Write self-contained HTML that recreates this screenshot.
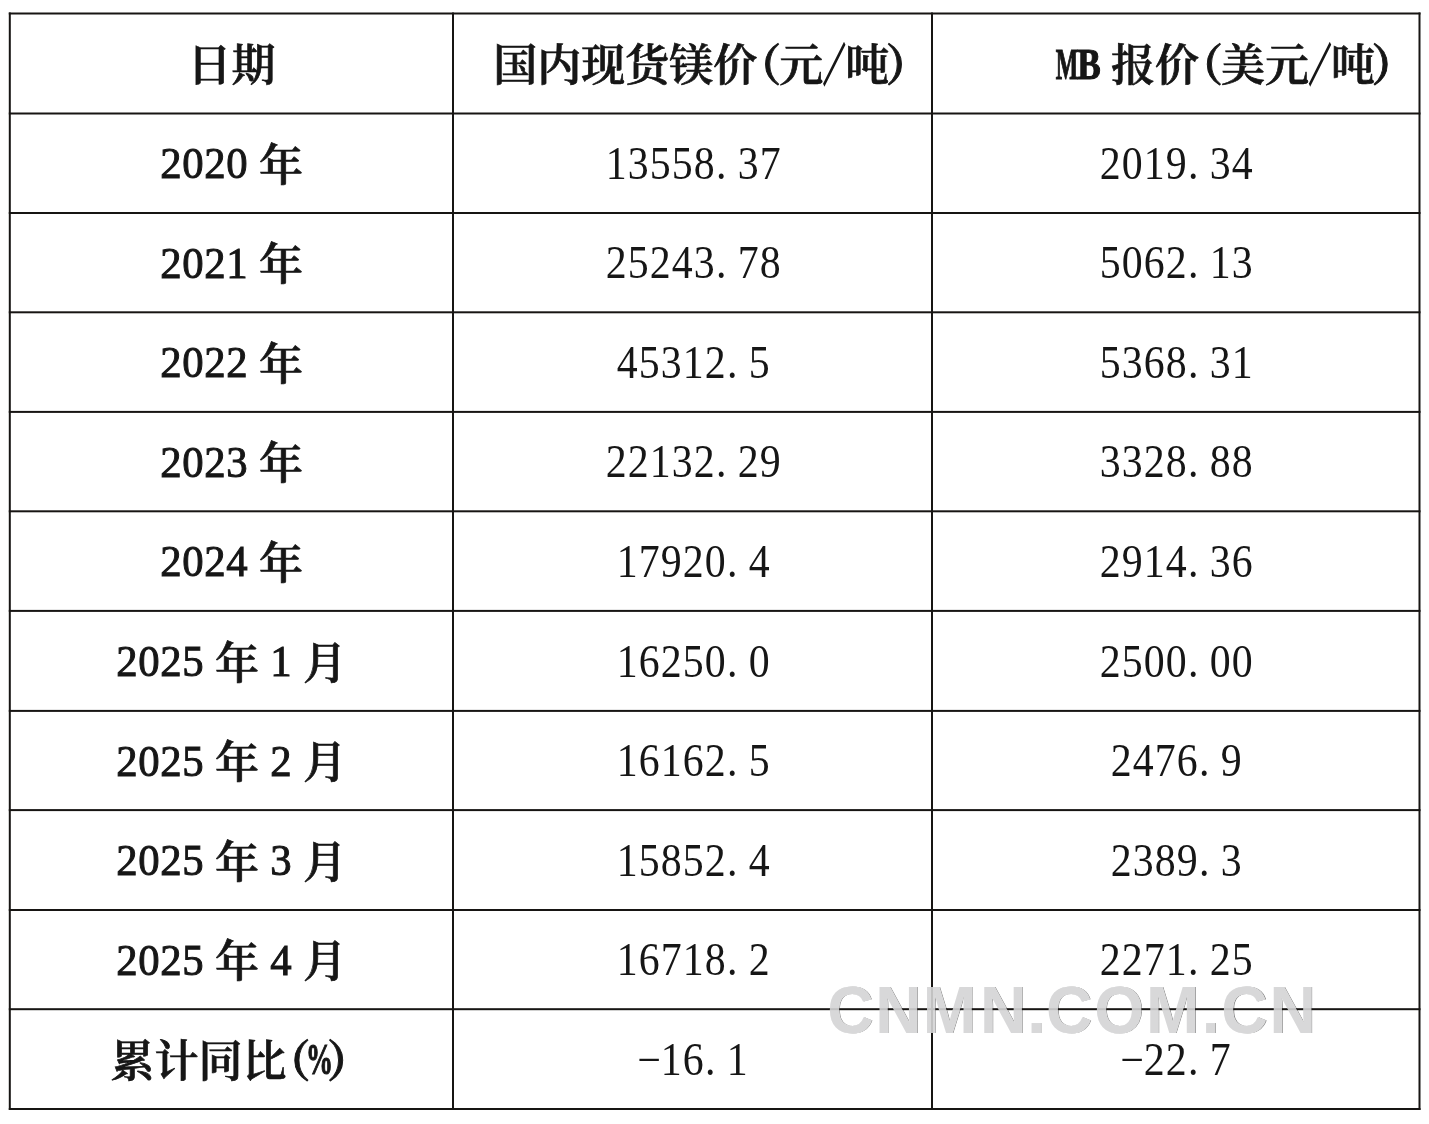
<!DOCTYPE html>
<html lang="zh-CN"><head><meta charset="utf-8"><title>镁价表</title>
<style>
html,body{margin:0;padding:0;background:#fff;}
body{width:1429px;height:1124px;overflow:hidden;}
svg{display:block;filter:blur(0.35px);}
.cb{font-family:"Liberation Serif","Noto Serif CJK SC",serif;font-weight:600;font-size:44px;text-anchor:middle;fill:#161616;stroke:#161616;stroke-width:0.7px;}
.pb{font-family:"Liberation Serif","Noto Serif CJK SC",serif;font-weight:700;font-size:44px;text-anchor:middle;fill:#161616;stroke:#161616;stroke-width:0.9px;}
.sl{font-family:"Liberation Serif","Noto Serif CJK SC",serif;font-weight:700;font-size:44px;text-anchor:middle;fill:#161616;stroke:#161616;stroke-width:2.4px;}
.cr{font-family:"Liberation Serif","Noto Serif CJK SC",serif;font-weight:400;font-size:44px;text-anchor:middle;fill:#161616;}
.lb{font-family:"Liberation Serif",serif;font-weight:400;font-size:45px;text-anchor:middle;fill:#161616;stroke:#161616;stroke-width:1.0px;}
.lbb{font-family:"Liberation Serif",serif;font-weight:700;font-size:45px;text-anchor:middle;fill:#161616;}
.lbs{font-family:"Liberation Serif",serif;font-weight:700;font-size:45px;text-anchor:middle;fill:#161616;stroke:#161616;stroke-width:1.2px;}
.lr{font-family:"Liberation Serif",serif;font-weight:400;font-size:45.5px;text-anchor:middle;fill:#161616;}
.wm{font-family:"Liberation Sans",Arial,sans-serif;font-weight:700;font-size:67px;fill:#d4d4d5;fill-opacity:0.9;}
.wk{font-family:"Liberation Sans",Arial,sans-serif;font-weight:700;font-size:67px;fill:#fff;}
.ws{font-family:"Liberation Sans",Arial,sans-serif;font-weight:700;font-size:67px;fill:#8a8a8a;}
</style></head>
<body>
<svg width="1429" height="1124" viewBox="0 0 1429 1124">
<rect width="1429" height="1124" fill="#fff"/>
<g>
<text class="ws" transform="translate(827.93 1033.40) scale(0.955 1)">C</text>
<text class="ws" transform="translate(876.12 1033.40) scale(0.955 1)">N</text>
<text class="ws" transform="translate(923.52 1033.40) scale(0.955 1)">M</text>
<text class="ws" transform="translate(980.82 1033.40) scale(0.955 1)">N</text>
<text class="ws" transform="translate(1028.12 1033.40) scale(0.955 1)">.</text>
<text class="ws" transform="translate(1046.73 1033.40) scale(0.955 1)">C</text>
<text class="ws" transform="translate(1095.12 1033.40) scale(0.955 1)">O</text>
<text class="ws" transform="translate(1146.82 1033.40) scale(0.955 1)">M</text>
<text class="ws" transform="translate(1202.62 1033.40) scale(0.955 1)">.</text>
<text class="ws" transform="translate(1222.13 1033.40) scale(0.955 1)">C</text>
<text class="ws" transform="translate(1270.22 1033.40) scale(0.955 1)">N</text>
<text class="wk" transform="translate(827.13 1032.60) scale(0.955 1)">C</text>
<text class="wk" transform="translate(875.32 1032.60) scale(0.955 1)">N</text>
<text class="wk" transform="translate(922.72 1032.60) scale(0.955 1)">M</text>
<text class="wk" transform="translate(980.02 1032.60) scale(0.955 1)">N</text>
<text class="wk" transform="translate(1027.32 1032.60) scale(0.955 1)">.</text>
<text class="wk" transform="translate(1045.93 1032.60) scale(0.955 1)">C</text>
<text class="wk" transform="translate(1094.32 1032.60) scale(0.955 1)">O</text>
<text class="wk" transform="translate(1146.02 1032.60) scale(0.955 1)">M</text>
<text class="wk" transform="translate(1201.82 1032.60) scale(0.955 1)">.</text>
<text class="wk" transform="translate(1221.34 1032.60) scale(0.955 1)">C</text>
<text class="wk" transform="translate(1269.42 1032.60) scale(0.955 1)">N</text>
</g>
<g fill="#171513">
<rect x="8.80" y="12.50" width="1411.70" height="2.0"/>
<rect x="8.80" y="112.50" width="1411.70" height="2.0"/>
<rect x="8.80" y="212.00" width="1411.70" height="2.0"/>
<rect x="8.80" y="311.30" width="1411.70" height="2.0"/>
<rect x="8.80" y="410.90" width="1411.70" height="2.0"/>
<rect x="8.80" y="510.30" width="1411.70" height="2.0"/>
<rect x="8.80" y="609.90" width="1411.70" height="2.0"/>
<rect x="8.80" y="709.90" width="1411.70" height="2.0"/>
<rect x="8.80" y="809.10" width="1411.70" height="2.0"/>
<rect x="8.80" y="909.00" width="1411.70" height="2.0"/>
<rect x="8.80" y="1008.20" width="1411.70" height="2.0"/>
<rect x="8.80" y="1108.00" width="1411.70" height="2.0"/>
<rect x="8.80" y="12.50" width="2.0" height="1097.50"/>
<rect x="452.00" y="12.50" width="2.0" height="1097.50"/>
<rect x="931.00" y="12.50" width="2.0" height="1097.50"/>
<rect x="1418.50" y="12.50" width="2.0" height="1097.50"/>
</g>
<g>
<text class="cb" x="209.50" y="81.10">日</text>
<text class="cb" x="253.50" y="81.10">期</text>
<text class="cb" x="515.25" y="81.10">国</text>
<text class="cb" x="559.25" y="81.10">内</text>
<text class="cb" x="603.25" y="81.10">现</text>
<text class="cb" x="647.25" y="81.10">货</text>
<text class="cb" x="691.25" y="81.10">镁</text>
<text class="cb" x="735.25" y="81.10">价</text>
<text class="pb" x="759.25" y="81.10">（</text>
<text class="cb" x="801.25" y="81.10">元</text>
<text class="sl" transform="translate(834.25 81.10) scale(0.5 1)">／</text>
<text class="cb" x="867.25" y="81.10">吨</text>
<text class="pb" x="907.75" y="81.10">）</text>
<text class="lbs" transform="translate(1067.00 78.70) scale(0.53 1)">M</text>
<text class="lbs" transform="translate(1089.00 78.70) scale(0.78 1)">B</text>
<text class="cb" x="1133.00" y="81.10">报</text>
<text class="cb" x="1177.00" y="81.10">价</text>
<text class="pb" x="1201.00" y="81.10">（</text>
<text class="cb" x="1243.00" y="81.10">美</text>
<text class="cb" x="1287.00" y="81.10">元</text>
<text class="sl" transform="translate(1320.00 81.10) scale(0.5 1)">／</text>
<text class="cb" x="1353.00" y="81.10">吨</text>
<text class="pb" x="1393.50" y="81.10">）</text>
<text class="lb" transform="translate(171.00 178.45) scale(0.95 1)">2</text>
<text class="lb" transform="translate(193.00 178.45) scale(0.95 1)">0</text>
<text class="lb" transform="translate(215.00 178.45) scale(0.95 1)">2</text>
<text class="lb" transform="translate(237.00 178.45) scale(0.95 1)">0</text>
<text class="cb" x="281.00" y="180.85">年</text>
<text class="lr" transform="translate(616.30 179.05) scale(0.92 1)">1</text>
<text class="lr" transform="translate(638.30 179.05) scale(0.92 1)">3</text>
<text class="lr" transform="translate(660.30 179.05) scale(0.92 1)">5</text>
<text class="lr" transform="translate(682.30 179.05) scale(0.92 1)">5</text>
<text class="lr" transform="translate(704.30 179.05) scale(0.92 1)">8</text>
<text class="lr" transform="translate(721.30 179.05) scale(0.92 1)">.</text>
<text class="lr" transform="translate(748.30 179.05) scale(0.92 1)">3</text>
<text class="lr" transform="translate(770.30 179.05) scale(0.92 1)">7</text>
<text class="lr" transform="translate(1110.20 179.05) scale(0.92 1)">2</text>
<text class="lr" transform="translate(1132.20 179.05) scale(0.92 1)">0</text>
<text class="lr" transform="translate(1154.20 179.05) scale(0.92 1)">1</text>
<text class="lr" transform="translate(1176.20 179.05) scale(0.92 1)">9</text>
<text class="lr" transform="translate(1193.20 179.05) scale(0.92 1)">.</text>
<text class="lr" transform="translate(1220.20 179.05) scale(0.92 1)">3</text>
<text class="lr" transform="translate(1242.20 179.05) scale(0.92 1)">4</text>
<text class="lb" transform="translate(171.00 277.85) scale(0.95 1)">2</text>
<text class="lb" transform="translate(193.00 277.85) scale(0.95 1)">0</text>
<text class="lb" transform="translate(215.00 277.85) scale(0.95 1)">2</text>
<text class="lb" transform="translate(237.00 277.85) scale(0.95 1)">1</text>
<text class="cb" x="281.00" y="280.25">年</text>
<text class="lr" transform="translate(616.30 278.45) scale(0.92 1)">2</text>
<text class="lr" transform="translate(638.30 278.45) scale(0.92 1)">5</text>
<text class="lr" transform="translate(660.30 278.45) scale(0.92 1)">2</text>
<text class="lr" transform="translate(682.30 278.45) scale(0.92 1)">4</text>
<text class="lr" transform="translate(704.30 278.45) scale(0.92 1)">3</text>
<text class="lr" transform="translate(721.30 278.45) scale(0.92 1)">.</text>
<text class="lr" transform="translate(748.30 278.45) scale(0.92 1)">7</text>
<text class="lr" transform="translate(770.30 278.45) scale(0.92 1)">8</text>
<text class="lr" transform="translate(1110.20 278.45) scale(0.92 1)">5</text>
<text class="lr" transform="translate(1132.20 278.45) scale(0.92 1)">0</text>
<text class="lr" transform="translate(1154.20 278.45) scale(0.92 1)">6</text>
<text class="lr" transform="translate(1176.20 278.45) scale(0.92 1)">2</text>
<text class="lr" transform="translate(1193.20 278.45) scale(0.92 1)">.</text>
<text class="lr" transform="translate(1220.20 278.45) scale(0.92 1)">1</text>
<text class="lr" transform="translate(1242.20 278.45) scale(0.92 1)">3</text>
<text class="lb" transform="translate(171.00 377.30) scale(0.95 1)">2</text>
<text class="lb" transform="translate(193.00 377.30) scale(0.95 1)">0</text>
<text class="lb" transform="translate(215.00 377.30) scale(0.95 1)">2</text>
<text class="lb" transform="translate(237.00 377.30) scale(0.95 1)">2</text>
<text class="cb" x="281.00" y="379.70">年</text>
<text class="lr" transform="translate(627.30 377.90) scale(0.92 1)">4</text>
<text class="lr" transform="translate(649.30 377.90) scale(0.92 1)">5</text>
<text class="lr" transform="translate(671.30 377.90) scale(0.92 1)">3</text>
<text class="lr" transform="translate(693.30 377.90) scale(0.92 1)">1</text>
<text class="lr" transform="translate(715.30 377.90) scale(0.92 1)">2</text>
<text class="lr" transform="translate(732.30 377.90) scale(0.92 1)">.</text>
<text class="lr" transform="translate(759.30 377.90) scale(0.92 1)">5</text>
<text class="lr" transform="translate(1110.20 377.90) scale(0.92 1)">5</text>
<text class="lr" transform="translate(1132.20 377.90) scale(0.92 1)">3</text>
<text class="lr" transform="translate(1154.20 377.90) scale(0.92 1)">6</text>
<text class="lr" transform="translate(1176.20 377.90) scale(0.92 1)">8</text>
<text class="lr" transform="translate(1193.20 377.90) scale(0.92 1)">.</text>
<text class="lr" transform="translate(1220.20 377.90) scale(0.92 1)">3</text>
<text class="lr" transform="translate(1242.20 377.90) scale(0.92 1)">1</text>
<text class="lb" transform="translate(171.00 476.80) scale(0.95 1)">2</text>
<text class="lb" transform="translate(193.00 476.80) scale(0.95 1)">0</text>
<text class="lb" transform="translate(215.00 476.80) scale(0.95 1)">2</text>
<text class="lb" transform="translate(237.00 476.80) scale(0.95 1)">3</text>
<text class="cb" x="281.00" y="479.20">年</text>
<text class="lr" transform="translate(616.30 477.40) scale(0.92 1)">2</text>
<text class="lr" transform="translate(638.30 477.40) scale(0.92 1)">2</text>
<text class="lr" transform="translate(660.30 477.40) scale(0.92 1)">1</text>
<text class="lr" transform="translate(682.30 477.40) scale(0.92 1)">3</text>
<text class="lr" transform="translate(704.30 477.40) scale(0.92 1)">2</text>
<text class="lr" transform="translate(721.30 477.40) scale(0.92 1)">.</text>
<text class="lr" transform="translate(748.30 477.40) scale(0.92 1)">2</text>
<text class="lr" transform="translate(770.30 477.40) scale(0.92 1)">9</text>
<text class="lr" transform="translate(1110.20 477.40) scale(0.92 1)">3</text>
<text class="lr" transform="translate(1132.20 477.40) scale(0.92 1)">3</text>
<text class="lr" transform="translate(1154.20 477.40) scale(0.92 1)">2</text>
<text class="lr" transform="translate(1176.20 477.40) scale(0.92 1)">8</text>
<text class="lr" transform="translate(1193.20 477.40) scale(0.92 1)">.</text>
<text class="lr" transform="translate(1220.20 477.40) scale(0.92 1)">8</text>
<text class="lr" transform="translate(1242.20 477.40) scale(0.92 1)">8</text>
<text class="lb" transform="translate(171.00 576.30) scale(0.95 1)">2</text>
<text class="lb" transform="translate(193.00 576.30) scale(0.95 1)">0</text>
<text class="lb" transform="translate(215.00 576.30) scale(0.95 1)">2</text>
<text class="lb" transform="translate(237.00 576.30) scale(0.95 1)">4</text>
<text class="cb" x="281.00" y="578.70">年</text>
<text class="lr" transform="translate(627.30 576.90) scale(0.92 1)">1</text>
<text class="lr" transform="translate(649.30 576.90) scale(0.92 1)">7</text>
<text class="lr" transform="translate(671.30 576.90) scale(0.92 1)">9</text>
<text class="lr" transform="translate(693.30 576.90) scale(0.92 1)">2</text>
<text class="lr" transform="translate(715.30 576.90) scale(0.92 1)">0</text>
<text class="lr" transform="translate(732.30 576.90) scale(0.92 1)">.</text>
<text class="lr" transform="translate(759.30 576.90) scale(0.92 1)">4</text>
<text class="lr" transform="translate(1110.20 576.90) scale(0.92 1)">2</text>
<text class="lr" transform="translate(1132.20 576.90) scale(0.92 1)">9</text>
<text class="lr" transform="translate(1154.20 576.90) scale(0.92 1)">1</text>
<text class="lr" transform="translate(1176.20 576.90) scale(0.92 1)">4</text>
<text class="lr" transform="translate(1193.20 576.90) scale(0.92 1)">.</text>
<text class="lr" transform="translate(1220.20 576.90) scale(0.92 1)">3</text>
<text class="lr" transform="translate(1242.20 576.90) scale(0.92 1)">6</text>
<text class="lb" transform="translate(127.00 676.10) scale(0.95 1)">2</text>
<text class="lb" transform="translate(149.00 676.10) scale(0.95 1)">0</text>
<text class="lb" transform="translate(171.00 676.10) scale(0.95 1)">2</text>
<text class="lb" transform="translate(193.00 676.10) scale(0.95 1)">5</text>
<text class="cb" x="237.00" y="678.50">年</text>
<text class="lb" transform="translate(281.00 676.10) scale(0.95 1)">1</text>
<text class="cb" x="325.00" y="678.50">月</text>
<text class="lr" transform="translate(627.30 676.70) scale(0.92 1)">1</text>
<text class="lr" transform="translate(649.30 676.70) scale(0.92 1)">6</text>
<text class="lr" transform="translate(671.30 676.70) scale(0.92 1)">2</text>
<text class="lr" transform="translate(693.30 676.70) scale(0.92 1)">5</text>
<text class="lr" transform="translate(715.30 676.70) scale(0.92 1)">0</text>
<text class="lr" transform="translate(732.30 676.70) scale(0.92 1)">.</text>
<text class="lr" transform="translate(759.30 676.70) scale(0.92 1)">0</text>
<text class="lr" transform="translate(1110.20 676.70) scale(0.92 1)">2</text>
<text class="lr" transform="translate(1132.20 676.70) scale(0.92 1)">5</text>
<text class="lr" transform="translate(1154.20 676.70) scale(0.92 1)">0</text>
<text class="lr" transform="translate(1176.20 676.70) scale(0.92 1)">0</text>
<text class="lr" transform="translate(1193.20 676.70) scale(0.92 1)">.</text>
<text class="lr" transform="translate(1220.20 676.70) scale(0.92 1)">0</text>
<text class="lr" transform="translate(1242.20 676.70) scale(0.92 1)">0</text>
<text class="lb" transform="translate(127.00 775.70) scale(0.95 1)">2</text>
<text class="lb" transform="translate(149.00 775.70) scale(0.95 1)">0</text>
<text class="lb" transform="translate(171.00 775.70) scale(0.95 1)">2</text>
<text class="lb" transform="translate(193.00 775.70) scale(0.95 1)">5</text>
<text class="cb" x="237.00" y="778.10">年</text>
<text class="lb" transform="translate(281.00 775.70) scale(0.95 1)">2</text>
<text class="cb" x="325.00" y="778.10">月</text>
<text class="lr" transform="translate(627.30 776.30) scale(0.92 1)">1</text>
<text class="lr" transform="translate(649.30 776.30) scale(0.92 1)">6</text>
<text class="lr" transform="translate(671.30 776.30) scale(0.92 1)">1</text>
<text class="lr" transform="translate(693.30 776.30) scale(0.92 1)">6</text>
<text class="lr" transform="translate(715.30 776.30) scale(0.92 1)">2</text>
<text class="lr" transform="translate(732.30 776.30) scale(0.92 1)">.</text>
<text class="lr" transform="translate(759.30 776.30) scale(0.92 1)">5</text>
<text class="lr" transform="translate(1121.20 776.30) scale(0.92 1)">2</text>
<text class="lr" transform="translate(1143.20 776.30) scale(0.92 1)">4</text>
<text class="lr" transform="translate(1165.20 776.30) scale(0.92 1)">7</text>
<text class="lr" transform="translate(1187.20 776.30) scale(0.92 1)">6</text>
<text class="lr" transform="translate(1204.20 776.30) scale(0.92 1)">.</text>
<text class="lr" transform="translate(1231.20 776.30) scale(0.92 1)">9</text>
<text class="lb" transform="translate(127.00 875.25) scale(0.95 1)">2</text>
<text class="lb" transform="translate(149.00 875.25) scale(0.95 1)">0</text>
<text class="lb" transform="translate(171.00 875.25) scale(0.95 1)">2</text>
<text class="lb" transform="translate(193.00 875.25) scale(0.95 1)">5</text>
<text class="cb" x="237.00" y="877.65">年</text>
<text class="lb" transform="translate(281.00 875.25) scale(0.95 1)">3</text>
<text class="cb" x="325.00" y="877.65">月</text>
<text class="lr" transform="translate(627.30 875.85) scale(0.92 1)">1</text>
<text class="lr" transform="translate(649.30 875.85) scale(0.92 1)">5</text>
<text class="lr" transform="translate(671.30 875.85) scale(0.92 1)">8</text>
<text class="lr" transform="translate(693.30 875.85) scale(0.92 1)">5</text>
<text class="lr" transform="translate(715.30 875.85) scale(0.92 1)">2</text>
<text class="lr" transform="translate(732.30 875.85) scale(0.92 1)">.</text>
<text class="lr" transform="translate(759.30 875.85) scale(0.92 1)">4</text>
<text class="lr" transform="translate(1121.20 875.85) scale(0.92 1)">2</text>
<text class="lr" transform="translate(1143.20 875.85) scale(0.92 1)">3</text>
<text class="lr" transform="translate(1165.20 875.85) scale(0.92 1)">8</text>
<text class="lr" transform="translate(1187.20 875.85) scale(0.92 1)">9</text>
<text class="lr" transform="translate(1204.20 875.85) scale(0.92 1)">.</text>
<text class="lr" transform="translate(1231.20 875.85) scale(0.92 1)">3</text>
<text class="lb" transform="translate(127.00 974.80) scale(0.95 1)">2</text>
<text class="lb" transform="translate(149.00 974.80) scale(0.95 1)">0</text>
<text class="lb" transform="translate(171.00 974.80) scale(0.95 1)">2</text>
<text class="lb" transform="translate(193.00 974.80) scale(0.95 1)">5</text>
<text class="cb" x="237.00" y="977.20">年</text>
<text class="lb" transform="translate(281.00 974.80) scale(0.95 1)">4</text>
<text class="cb" x="325.00" y="977.20">月</text>
<text class="lr" transform="translate(627.30 975.40) scale(0.92 1)">1</text>
<text class="lr" transform="translate(649.30 975.40) scale(0.92 1)">6</text>
<text class="lr" transform="translate(671.30 975.40) scale(0.92 1)">7</text>
<text class="lr" transform="translate(693.30 975.40) scale(0.92 1)">1</text>
<text class="lr" transform="translate(715.30 975.40) scale(0.92 1)">8</text>
<text class="lr" transform="translate(732.30 975.40) scale(0.92 1)">.</text>
<text class="lr" transform="translate(759.30 975.40) scale(0.92 1)">2</text>
<text class="lr" transform="translate(1110.20 975.40) scale(0.92 1)">2</text>
<text class="lr" transform="translate(1132.20 975.40) scale(0.92 1)">2</text>
<text class="lr" transform="translate(1154.20 975.40) scale(0.92 1)">7</text>
<text class="lr" transform="translate(1176.20 975.40) scale(0.92 1)">1</text>
<text class="lr" transform="translate(1193.20 975.40) scale(0.92 1)">.</text>
<text class="lr" transform="translate(1220.20 975.40) scale(0.92 1)">2</text>
<text class="lr" transform="translate(1242.20 975.40) scale(0.92 1)">5</text>
<text class="cb" x="132.50" y="1076.70">累</text>
<text class="cb" x="176.50" y="1076.70">计</text>
<text class="cb" x="220.50" y="1076.70">同</text>
<text class="cb" x="264.50" y="1076.70">比</text>
<text class="pb" x="288.50" y="1076.70">（</text>
<text class="lbs" transform="translate(319.50 1074.30) scale(0.6 1)">%</text>
<text class="pb" x="349.00" y="1076.70">）</text>
<text class="lr" transform="translate(649.30 1074.90) scale(0.92 1)">−</text>
<text class="lr" transform="translate(671.30 1074.90) scale(0.92 1)">1</text>
<text class="lr" transform="translate(693.30 1074.90) scale(0.92 1)">6</text>
<text class="lr" transform="translate(710.30 1074.90) scale(0.92 1)">.</text>
<text class="lr" transform="translate(737.30 1074.90) scale(0.92 1)">1</text>
<text class="lr" transform="translate(1132.20 1074.90) scale(0.92 1)">−</text>
<text class="lr" transform="translate(1154.20 1074.90) scale(0.92 1)">2</text>
<text class="lr" transform="translate(1176.20 1074.90) scale(0.92 1)">2</text>
<text class="lr" transform="translate(1193.20 1074.90) scale(0.92 1)">.</text>
<text class="lr" transform="translate(1220.20 1074.90) scale(0.92 1)">7</text>
</g>
<g>
<text class="wm" transform="translate(827.13 1032.60) scale(0.955 1)">C</text>
<text class="wm" transform="translate(875.32 1032.60) scale(0.955 1)">N</text>
<text class="wm" transform="translate(922.72 1032.60) scale(0.955 1)">M</text>
<text class="wm" transform="translate(980.02 1032.60) scale(0.955 1)">N</text>
<text class="wm" transform="translate(1027.32 1032.60) scale(0.955 1)">.</text>
<text class="wm" transform="translate(1045.93 1032.60) scale(0.955 1)">C</text>
<text class="wm" transform="translate(1094.32 1032.60) scale(0.955 1)">O</text>
<text class="wm" transform="translate(1146.02 1032.60) scale(0.955 1)">M</text>
<text class="wm" transform="translate(1201.82 1032.60) scale(0.955 1)">.</text>
<text class="wm" transform="translate(1221.34 1032.60) scale(0.955 1)">C</text>
<text class="wm" transform="translate(1269.42 1032.60) scale(0.955 1)">N</text>
</g>
</svg>
</body></html>
